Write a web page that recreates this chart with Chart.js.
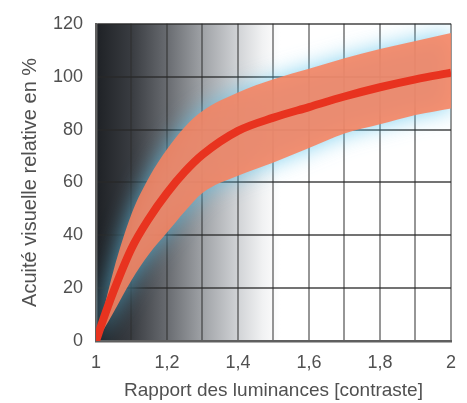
<!DOCTYPE html>
<html>
<head>
<meta charset="utf-8">
<script src="https://cdn.jsdelivr.net/npm/chart.js@4/dist/chart.umd.min.js"></script>
<style>
  html, body { margin: 0; padding: 0; background: #fff; }
  #wrap { width: 467px; height: 403px; position: relative; }
</style>
</head>
<body>
<div id="wrap"><canvas id="graphe"></canvas></div>
<script>
/* donnees */
var contraste   = [1.0, 1.02, 1.05, 1.1, 1.15, 1.2, 1.25, 1.3, 1.4, 1.5, 1.6, 1.7, 1.8, 1.9, 2.0];
var acuiteMoy   = [0, 8, 19, 35, 46.5, 56, 64, 70.5, 79.5, 84.5, 88.5, 92.5, 96, 99, 101.5];
var acuiteHaute = [0, 11, 27, 48, 62, 72.5, 81, 87, 94, 99, 103, 107, 110.5, 113.5, 116.5];
var acuiteBasse = [0, 4, 11, 23, 33, 41, 49, 56, 62.5, 67.5, 73, 78.5, 82, 85.5, 88];
var ticksX      = [1, 1.2, 1.4, 1.6, 1.8, 2];

function points(ys) {
  return contraste.map(function (x, i) { return { x: x, y: ys[i] }; });
}

/* fond degrade sombre -> blanc */
var fondDegrade = {
  id: "fondDegrade",
  beforeDraw: function (chart) {
    var a = chart.chartArea, ctx = chart.ctx;
    var g = ctx.createLinearGradient(a.left, 0, a.right, 0);
    g.addColorStop(0.00, "#1e2125");
    g.addColorStop(0.10, "#393c41");
    g.addColorStop(0.20, "#686b70");
    g.addColorStop(0.30, "#9fa2a6");
    g.addColorStop(0.40, "#d1d3d6");
    g.addColorStop(0.47, "#f1f2f3");
    g.addColorStop(0.52, "#ffffff");
    g.addColorStop(1.00, "#ffffff");
    ctx.save();
    ctx.fillStyle = g;
    ctx.fillRect(a.left, a.top, a.right - a.left, a.bottom - a.top);
    ctx.restore();
  }
};

/* halo bleute autour de la bande */
var halo = {
  id: "halo",
  beforeDatasetsDraw: function (chart) {
    var ctx = chart.ctx;
    ctx.save();
    ctx.shadowColor = "rgba(90,195,235,0.85)";
    ctx.shadowBlur = 22;
    ctx.shadowOffsetX = 0;
    ctx.shadowOffsetY = 0;
  },
  afterDatasetDraw: function (chart, args) {
    if (args.index === 1) chart.ctx.restore();
  }
};

var police = "'Liberation Sans', Arial, sans-serif";

new Chart(document.getElementById("graphe"), {
  type: "line",
  data: {
    datasets: [
      {
        data: points(acuiteMoy),
        borderColor: "#e8331f",
        borderWidth: 8,
        pointRadius: 0,
        cubicInterpolationMode: "monotone",
        fill: false
      },
      {
        data: points(acuiteHaute),
        borderColor: "rgba(0,0,0,0)",
        borderWidth: 1,
        pointRadius: 0,
        cubicInterpolationMode: "monotone",
        backgroundColor: "rgba(248,130,95,0.88)",
        fill: "+1"
      },
      {
        data: points(acuiteBasse),
        borderColor: "rgba(0,0,0,0)",
        borderWidth: 1,
        pointRadius: 0,
        cubicInterpolationMode: "monotone",
        fill: false
      }
    ]
  },
  options: {
    responsive: true,
    maintainAspectRatio: false,
    animation: false,
    layout: { padding: { left: 9, top: 19, right: 10, bottom: 0 } },
    plugins: { legend: { display: false }, tooltip: { enabled: false } },
    scales: {
      x: {
        type: "linear",
        min: 1,
        max: 2,
        afterFit: function (s) { s.height = 62; },
        afterBuildTicks: function (s) {
          var t = [];
          for (var k = 0; k <= 10; k++) t.push({ value: 1 + k / 10 });
          s.ticks = t;
        },
        ticks: {
          color: "#505050",
          padding: 11,
          maxRotation: 0,
          autoSkip: false,
          font: { family: police, size: 18 },
          callback: function (v) {
            var r = Math.round(v * 10) / 10;
            for (var i = 0; i < ticksX.length; i++) {
              if (Math.abs(ticksX[i] - r) < 1e-6) return String(r).replace(".", ",");
            }
            return "";
          }
        },
        grid: { color: "rgba(45,45,45,0.5)", lineWidth: 2, drawTicks: false },
        border: { color: "#5f5f5f", width: 2.5 },
        title: {
          display: true,
          text: "Rapport des luminances [contraste]",
          color: "#505050",
          font: { family: police, size: 19 },
          padding: { top: 0, bottom: 1 }
        }
      },
      y: {
        min: 0,
        max: 120,
        afterFit: function (s) { s.width = 87; },
        ticks: {
          stepSize: 20,
          color: "#505050",
          padding: 13,
          font: { family: police, size: 18 }
        },
        grid: { color: "rgba(40,40,40,0.65)", lineWidth: 2, drawTicks: false },
        border: { color: "#5f5f5f", width: 2.5 },
        title: {
          display: true,
          text: "Acuité visuelle relative en %",
          color: "#505050",
          font: { family: police, size: 20 },
          padding: { top: 9, bottom: 0 }
        }
      }
    }
  },
  plugins: [fondDegrade, halo]
});
</script>
</body>
</html>
